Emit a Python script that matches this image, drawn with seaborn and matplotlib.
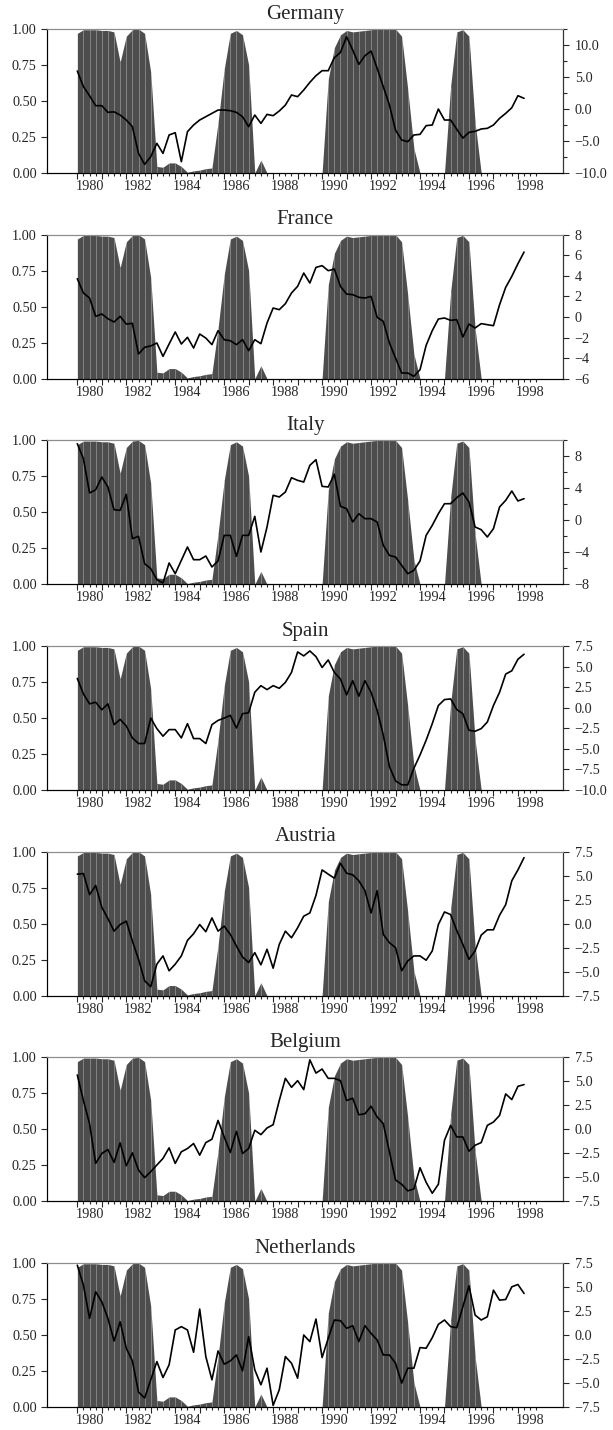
import numpy as np
import seaborn as sns
import matplotlib.pyplot as plt
from matplotlib.ticker import MultipleLocator, FormatStrFormatter, FuncFormatter

# quarterly observations, 1980Q1 .. 1998Q2
quarters = 1980 + np.arange(74) / 4

# smoothed recession probability (left axis, same in every panel)
recession_prob = [
    0.97, 0.995, 0.995, 0.995, 0.99, 0.99, 0.98, 0.77, 0.95, 0.995,
    1.0, 0.97, 0.70, 0.045, 0.04, 0.07, 0.07, 0.045, 0.005, 0.015,
    0.02, 0.03, 0.035, 0.35, 0.72, 0.97, 0.99, 0.96, 0.75, 0.0,
    0.09, 0.0, 0.0, 0.0, 0.0, 0.0, 0.0, 0.0, 0.0, 0.0,
    0.0, 0.65, 0.87, 0.96, 0.99, 0.98, 0.985, 0.99, 0.995, 1.0,
    1.0, 1.0, 1.0, 0.95, 0.58, 0.17, 0.0, 0.0, 0.0, 0.0,
    0.0, 0.6, 0.98, 0.995, 0.95, 0.35, 0.0, 0.0, 0.0, 0.0,
    0.0, 0.0, 0.0, 0.0,
]

germany = [
    5.94, 3.49, 2.08, 0.52, 0.52, -0.52, -0.44, -0.94, -1.72, -2.76,
    -6.93, -8.65, -7.45, -5.37, -6.93, -4.06, -3.70, -8.23, -3.54, -2.50,
    -1.72, -1.20, -0.68, -0.16, -0.16, -0.26, -0.52, -1.20, -2.76, -0.94,
    -2.24, -0.84, -1.04, -0.31, 0.62, 2.19, 1.93, 2.97, 4.17, 5.21,
    5.99, 5.99, 8.02, 8.85, 11.3, 9.22, 6.98, 8.33, 9.06, 6.35,
    3.49, 0.62, -3.3, -4.84, -5.10, -4.06, -3.96, -2.60, -2.50, 0.0,
    -1.72, -1.72, -3.15, -4.55, -3.65, -3.49, -3.12, -3.02, -2.50, -1.46,
    -0.68, 0.20, 2.08, 1.67,
]

france = [
    3.72, 2.33, 1.84, 0.06, 0.29, -0.17, -0.49, 0.06, -0.69, -0.62,
    -3.60, -2.95, -2.82, -2.53, -3.83, -2.63, -1.46, -2.63, -1.98, -3.02,
    -1.66, -2.05, -2.69, -1.33, -2.21, -2.31, -2.69, -2.21, -3.28, -2.21,
    -2.60, -0.59, 0.87, 0.71, 1.29, 2.33, 2.98, 4.27, 3.30, 4.82,
    4.99, 4.50, 4.66, 2.98, 2.23, 2.17, 1.91, 1.84, 2.00, -0.04,
    -0.43, -2.53, -3.99, -5.45, -5.45, -5.77, -5.13, -2.76, -1.33, -0.20,
    -0.10, -0.33, -0.26, -1.95, -0.69, -1.07, -0.65, -0.75, -0.85, 1.19,
    2.88, 3.95, 5.18, 6.31,
]

italy = [
    9.58, 7.70, 3.42, 3.83, 5.42, 4.17, 1.33, 1.25, 3.25, -2.29,
    -2.00, -5.42, -6.04, -7.42, -7.83, -5.33, -6.67, -5.00, -3.33, -4.92,
    -4.92, -4.46, -5.83, -5.08, -1.88, -1.88, -4.50, -1.88, -1.88, 0.50,
    -3.96, -0.83, 3.13, 2.92, 3.54, 5.33, 5.00, 4.79, 6.88, 7.58,
    4.25, 4.17, 5.75, 1.75, 1.46, -0.21, 0.83, 0.21, 0.21, -0.21,
    -3.13, -4.38, -4.58, -5.63, -6.67, -6.25, -5.08, -1.88, -0.63, 0.83,
    2.08, 2.08, 2.83, 3.42, 2.29, -0.83, -1.17, -2.08, -1.04, 1.67,
    2.50, 3.67, 2.42, 2.71,
]

spain = [
    3.56, 1.68, 0.47, 0.67, -0.25, 0.47, -2.06, -1.42, -2.22, -3.67,
    -4.35, -4.35, -1.26, -2.54, -3.46, -2.66, -2.66, -3.67, -1.94, -3.75,
    -3.75, -4.35, -2.06, -1.54, -1.26, -0.93, -2.46, -0.73, -0.61, 1.88,
    2.68, 2.20, 2.68, 2.36, 3.08, 4.29, 6.78, 6.30, 6.90, 6.21,
    4.89, 5.81, 4.29, 3.48, 1.56, 3.28, 1.40, 3.28, 1.88, -0.33,
    -3.34, -7.16, -8.89, -9.37, -9.37, -7.36, -5.75, -3.95, -1.94, 0.27,
    0.99, 1.07, -0.21, -0.73, -2.74, -2.86, -2.54, -1.74, 0.27, 1.88,
    4.09, 4.49, 5.89, 6.50,
]

austria = [
    5.16, 5.22, 3.02, 3.98, 1.71, 0.53, -0.78, -0.09, 0.26, -1.81,
    -3.71, -5.95, -6.57, -4.22, -3.36, -4.91, -4.22, -3.36, -1.74, -1.05,
    -0.09, -0.84, 0.60, -0.78, -0.26, -1.12, -2.33, -3.47, -4.05, -3.02,
    -4.29, -2.67, -4.64, -2.16, -0.78, -1.47, -0.43, 0.78, 1.12, 2.95,
    5.60, 5.16, 4.74, 6.29, 5.26, 5.09, 4.47, 3.43, 1.12, 3.43,
    -1.12, -1.98, -2.50, -4.91, -3.88, -3.36, -3.36, -3.81, -2.84, -0.09,
    1.22, 0.95, -0.71, -2.16, -3.71, -2.84, -1.19, -0.64, -0.64, 0.88,
    1.98, 4.47, 5.60, 6.88,
]

belgium = [
    5.66, 3.00, 0.59, -3.55, -2.52, -2.10, -3.45, -1.41, -3.79, -2.45,
    -4.24, -5.03, -4.41, -3.72, -3.03, -1.93, -3.55, -2.34, -2.00, -1.48,
    -2.69, -1.38, -1.03, 0.93, -0.79, -2.41, -0.21, -2.52, -2.00, -0.10,
    -0.55, 0.14, 0.48, 3.00, 5.31, 4.38, 5.07, 4.14, 7.24, 5.86,
    6.28, 5.31, 5.31, 5.07, 3.00, 3.24, 1.52, 1.62, 2.41, 1.28,
    0.59, -2.34, -5.28, -5.72, -6.41, -6.21, -4.00, -5.52, -6.66, -5.72,
    -1.14, 0.41, -0.79, -0.79, -2.28, -1.66, -1.38, 0.41, 0.76, 1.45,
    3.69, 3.10, 4.48, 4.66,
]

netherlands = [
    7.27, 5.19, 1.73, 4.50, 3.46, 1.73, -0.62, 1.38, -1.38, -2.70,
    -5.95, -6.57, -4.67, -2.77, -4.43, -3.11, 0.52, 0.87, 0.52, -1.80,
    2.70, -2.25, -4.67, -1.66, -3.04, -2.70, -2.08, -3.74, -0.17, -3.63,
    -5.19, -3.46, -7.34, -5.71, -2.25, -2.94, -4.50, 0.0, -0.69, 1.66,
    -2.35, -0.35, 1.56, 1.49, 0.69, 0.97, -0.69, 0.97, 0.17, -0.52,
    -2.08, -2.08, -2.94, -5.02, -3.46, -3.46, -1.31, -1.38, -0.28, 1.11,
    1.56, 0.87, 0.76, 2.94, 5.12, 2.08, 1.56, 1.90, 4.67, 3.63,
    3.70, 5.02, 5.26, 4.33,
]

countries = ["Germany", "France", "Italy", "Spain", "Austria", "Belgium", "Netherlands"]
series = [germany, france, italy, spain, austria, belgium, netherlands]

# right axis: limits, major step, minor step, decimals
right_axes = [
    ((-10, 12.5), 5, 2.5, 1),
    ((-6, 8), 2, 2, 0),
    ((-8, 10), 4, 2, 0),
    ((-10, 7.5), 2.5, 2.5, 1),
    ((-7.5, 7.5), 2.5, 2.5, 1),
    ((-7.5, 7.5), 2.5, 2.5, 1),
    ((-7.5, 7.5), 2.5, 2.5, 1),
]

label_years = list(range(1980, 1999, 2))

sns.set_theme(style="ticks")
plt.rcParams["font.family"] = ["Liberation Serif", "DejaVu Serif"]
plt.rcParams["axes.unicode_minus"] = True

fig, axes = plt.subplots(7, 1, figsize=(6.13, 14.30), dpi=100)
fig.subplots_adjust(left=0.0772, right=0.9189, top=0.9797, bottom=0.0161, hspace=0.4285)

prob = np.array(recession_prob)
area_color = "#4d4d4d"
fs = 10.3


def minus_fmt(decimals):
    return FuncFormatter(lambda v, p: f"{v:.{decimals}f}".replace("-", "\u2212"))


for ax, name, vals, (lims, major, minor, dec) in zip(axes, countries, series, right_axes):
    # shaded probability
    ax.fill_between(quarters, 0, prob, color=area_color, lw=0, zorder=1)
    on = prob > 0
    ax.vlines(quarters[on], 0, prob[on], color="white", lw=0.7, alpha=0.3, zorder=2)

    ax.set_xlim(1978.775, 1999.853)
    ax.set_ylim(0, 1)
    ax.yaxis.set_major_locator(MultipleLocator(0.25))
    ax.yaxis.set_major_formatter(FormatStrFormatter("%.2f"))
    ax.set_xticks(np.arange(1980, 1999), labels=[])
    ax.set_xticks(np.arange(1980, 1998.8, 0.25), minor=True)
    ax.tick_params(axis="x", which="major", length=4.2, width=0.8, direction="out")
    ax.tick_params(axis="x", which="minor", length=2.2, width=0.8, direction="out")
    ax.tick_params(axis="y", length=4.2, width=0.8, pad=3.5, labelsize=fs)
    ax.set_title(name, fontsize=15, pad=7.5)

    sec = ax.secondary_xaxis("bottom")
    sec.set_xticks([y + 0.5 for y in label_years], labels=[str(y) for y in label_years])
    sec.tick_params(length=0, pad=5, labelsize=fs)
    sec.spines["bottom"].set_visible(False)

    # growth series on the right axis
    ax2 = ax.twinx()
    sns.lineplot(x=quarters, y=vals, ax=ax2, color="black", lw=1.2, zorder=3)
    ax2.set_ylim(*lims)
    ax2.yaxis.set_major_locator(MultipleLocator(major))
    ax2.yaxis.set_minor_locator(MultipleLocator(minor))
    ax2.yaxis.set_major_formatter(minus_fmt(dec))
    ax2.tick_params(axis="y", which="major", length=4.2, width=0.8, pad=4, labelsize=fs)
    ax2.tick_params(axis="y", which="minor", length=3.0, width=0.8)
    ax2.set_ylabel("")

    for a in (ax, ax2):
        for s in a.spines.values():
            s.set_linewidth(0.8)
            s.set_color("black")
        a.spines["top"].set_color("#8c8c8c")
    ax2.spines["right"].set_color("#333333")

fig.savefig("out.png", dpi=100)
